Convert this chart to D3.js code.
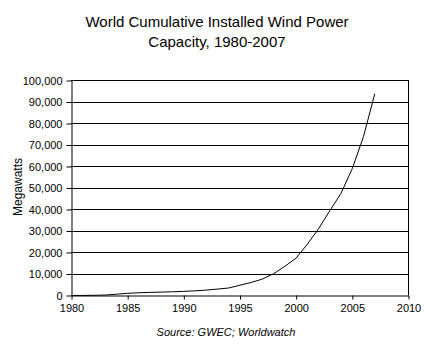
<!DOCTYPE html>
<html><head><meta charset="utf-8">
<script src="https://cdn.jsdelivr.net/npm/d3@7"></script>
<style>
html,body{margin:0;padding:0;background:#fff;}
svg{display:block;font-family:"Liberation Sans",Arial,sans-serif;}
</style></head>
<body>
<svg id="chart" width="434" height="364"></svg>
<script>
const years = [1980,1981,1982,1983,1984,1985,1986,1987,1988,1989,1990,1991,1992,1993,1994,1995,1996,1997,1998,1999,2000,2001,2002,2003,2004,2005,2006,2007];
const megawatts = [10,25,90,210,600,1020,1270,1450,1580,1730,1930,2170,2510,2990,3490,4780,6070,7640,10150,13600,17400,23900,31100,39431,47620,59091,74052,93849];
const xTicks = [1980,1985,1990,1995,2000,2005,2010];
const yTicks = [0,10000,20000,30000,40000,50000,60000,70000,80000,90000,100000];
const titleLines = ["World Cumulative Installed Wind Power","Capacity, 1980-2007"];
const yLabel = "Megawatts";
const sourceText = "Source: GWEC; Worldwatch";

const svg = d3.select("#chart");
svg.append("rect").attr("width",434).attr("height",364).attr("fill","#fff");
const L=71, R=408, T=80, B=295;
const x = d3.scaleLinear().domain([1980,2010]).range([L,R]);
const y = d3.scaleLinear().domain([0,100000]).range([B,T]);

// gridlines
svg.append("g").selectAll("line").data(yTicks.filter(d=>d>0)).join("line")
  .attr("x1",L).attr("x2",R).attr("y1",d=>Math.round(y(d))+0.5).attr("y2",d=>Math.round(y(d))+0.5)
  .attr("stroke","#000").attr("stroke-width",1);
// right border
svg.append("line").attr("x1",R+0.5).attr("x2",R+0.5).attr("y1",T).attr("y2",B).attr("stroke","#000");

const yAxis = svg.append("g").attr("transform",`translate(${L+0.5},0.5)`)
  .call(d3.axisLeft(y).tickValues(yTicks).tickSize(5).tickSizeOuter(0).tickPadding(4).tickFormat(d3.format(",")));
const xAxis = svg.append("g").attr("transform",`translate(0.5,${Math.round(B)+0.5})`)
  .call(d3.axisBottom(x).tickValues(xTicks).tickSize(4).tickSizeOuter(0).tickPadding(5).tickFormat(d3.format("d")));
[yAxis,xAxis].forEach(a=>{
  a.selectAll("text").attr("font-family","Liberation Sans, Arial, sans-serif").attr("font-size","11px").attr("fill","#000");
  a.selectAll("line,path").attr("stroke","#000");
});

// line
svg.append("path").datum(years.map((yr,i)=>[yr,megawatts[i]]))
  .attr("transform","translate(0.5,0.5)")
  .attr("fill","none").attr("stroke","#000").attr("stroke-width",1)
  .attr("d",d3.line().x(d=>x(d[0])).y(d=>y(d[1])));

// title
svg.append("text").attr("x",217).attr("text-anchor","middle").attr("font-size","15px").attr("fill","#000")
  .selectAll("tspan").data(titleLines).join("tspan").attr("x",217).attr("y",(d,i)=>27+i*20).text(d=>d);

svg.append("text").attr("transform","translate(22,187) rotate(-90)").attr("text-anchor","middle")
  .attr("font-size","12px").attr("fill","#000").text(yLabel);

svg.append("text").attr("x",226).attr("y",336).attr("text-anchor","middle").attr("font-size","11px")
  .attr("font-style","italic").attr("fill","#000").text(sourceText);
</script>
</body></html>
